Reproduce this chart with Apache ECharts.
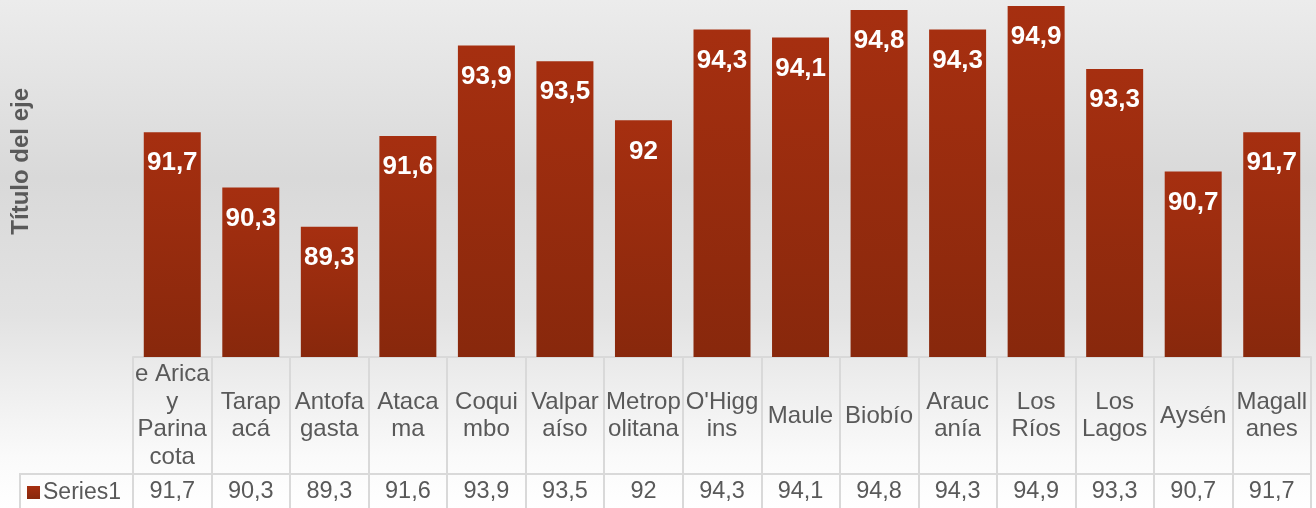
<!DOCTYPE html>
<html>
<head>
<meta charset="utf-8">
<script src="https://cdn.jsdelivr.net/npm/echarts@6/dist/echarts.min.js"></script>
<style>
    html, body { margin: 0; padding: 0; }
    #chart { width: 1316px; height: 508px; }
</style>
</head>
<body>
<div id="chart"></div>
<script>
// datos
const categories = ['e Arica\ny\nParina\ncota', 'Tarap\nacá', 'Antofa\ngasta', 'Ataca\nma', 'Coqui\nmbo',
    'Valpar\naíso', 'Metrop\nolitana', "O'Higg\nins", 'Maule', 'Biobío', 'Arauc\nanía', 'Los\nRíos',
    'Los\nLagos', 'Aysén', 'Magall\nanes']
const series1 = [91.7, 90.3, 89.3, 91.6, 93.9, 93.5, 92, 94.3, 94.1, 94.8, 94.3, 94.9, 93.3, 90.7, 91.7]
const seriesName = 'Series1'
const axisTitle = 'Título del eje'

const fmt = v => String(v).replace('.', ',')
const grey = '#595959'
const border = '#d9d9d9'
const font = 'Arial, "Liberation Sans", sans-serif'

var chart = echarts.init(document.getElementById('chart'))
const option = {
    animation: false,
    backgroundColor: new echarts.graphic.LinearGradient(0, 0, 0, 1, [
        { offset: 0, color: '#ececec' },
        { offset: 0.35, color: '#d9d9d9' },
        { offset: 0.62, color: '#e2e2e2' },
        { offset: 0.9, color: '#fafafa' },
        { offset: 1, color: '#ffffff' }
    ]),
    textStyle: { fontFamily: font },
    grid: { left: 133, right: 5, top: 2, bottom: 151 },
    legend: {
        left: 22,
        top: 476,
        icon: 'rect',
        itemWidth: 13,
        itemHeight: 13,
        itemGap: 0,
        textStyle: { color: grey, fontSize: 23, padding: [0, 0, 0, -2] },
        data: [seriesName]
    },
    graphic: [
        {
            type: 'text',
            left: 9,
            top: 88,
            rotation: Math.PI / 2,
            style: { text: axisTitle, fill: grey, font: 'bold 24px ' + font },
            // texto vertical
            originX: 0,
            originY: 0
        },
        {
            type: 'polyline',
            shape: { points: [[133, 474], [20, 474], [20, 508]] },
            style: { stroke: border, lineWidth: 2, fill: null }
        }
    ],
    xAxis: [
        {
            type: 'category',
            data: categories,
            axisLine: { show: true, lineStyle: { color: border, width: 2 } },
            axisTick: { show: true, interval: 0, length: 117, lineStyle: { color: border, width: 2 } },
            axisLabel: {
                interval: 0,
                margin: 59,
                verticalAlign: 'middle',
                color: grey,
                fontSize: 24,
                lineHeight: 27.5
            }
        },
        {
            // fila de valores de la tabla
            type: 'category',
            position: 'bottom',
            offset: 117,
            data: categories,
            axisLine: { show: true, lineStyle: { color: border, width: 2 } },
            axisTick: { show: true, interval: 0, length: 34, lineStyle: { color: border, width: 2 } },
            axisLabel: {
                interval: 0,
                margin: 18,
                verticalAlign: 'middle',
                color: grey,
                fontSize: 23.5,
                formatter: (v, i) => fmt(series1[i])
            }
        }
    ],
    yAxis: {
        type: 'value',
        min: 86,
        max: 95,
        show: false,
        splitLine: { show: false }
    },
    series: [
        {
            name: seriesName,
            type: 'bar',
            data: series1,
            barWidth: 57,
            itemStyle: {
                color: new echarts.graphic.LinearGradient(0, 0, 0, 1, [
                    { offset: 0, color: '#a62f10' },
                    { offset: 1, color: '#88280c' }
                ])
            },
            label: {
                show: true,
                position: 'insideTop',
                distance: 18,
                color: '#ffffff',
                fontWeight: 'bold',
                fontSize: 26,
                formatter: p => fmt(p.value)
            }
        }
    ]
}
chart.setOption(option)
</script>
</body>
</html>
